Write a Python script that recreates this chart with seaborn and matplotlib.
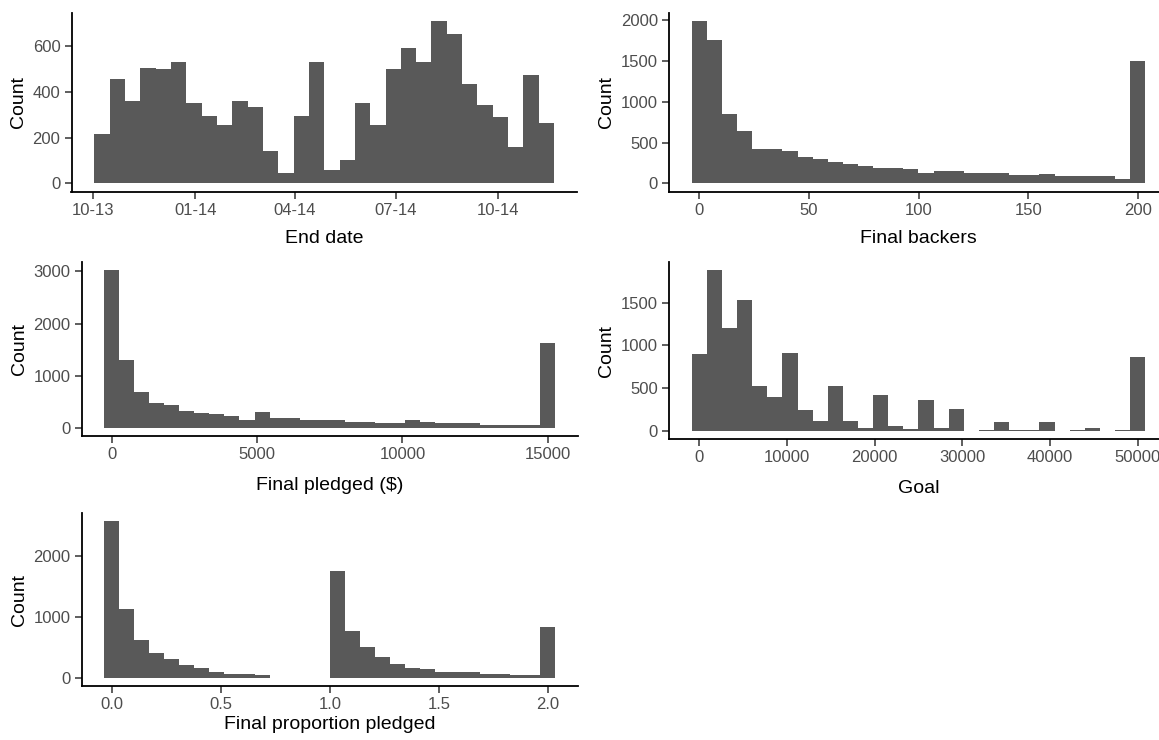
import numpy as np
import pandas as pd
import matplotlib
matplotlib.use("Agg")
import matplotlib.pyplot as plt
import matplotlib.dates as mdates
import seaborn as sns

# ---- data: 30-bin counts for each variable ----
end_date_range = ["2013-10-09", "2014-11-14"]
end_date_counts = [214, 457, 360, 504, 497, 530, 351, 295, 254, 360,
                   335, 142, 45, 295, 530, 59, 101, 351, 254, 497,
                   592, 530, 708, 653, 432, 344, 288, 159, 471, 263]
end_date_ticks = ["2013-10-01", "2014-01-01", "2014-04-01", "2014-07-01", "2014-10-01"]

backers_range = [0, 200]
backers_counts = [1992, 1764, 850, 646, 419, 419, 394, 329, 305, 260,
                  240, 215, 195, 195, 171, 126, 150, 150, 126, 126,
                  126, 101, 101, 118, 85, 85, 85, 85, 50, 1508]
backers_ticks = [0, 50, 100, 150, 200]

pledged_range = [0, 15000]
pledged_counts = [3025, 1302, 696, 485, 447, 325, 294, 268, 230, 153,
                  306, 198, 198, 153, 153, 153, 121, 121, 89, 89,
                  160, 121, 89, 89, 89, 51, 51, 51, 51, 1621]
pledged_ticks = [0, 5000, 10000, 15000]

goal_range = [0, 50000]
goal_counts = [898, 1881, 1201, 1527, 529, 393, 917, 245, 116, 529,
               120, 40, 425, 60, 18, 365, 38, 255, 0, 15,
               105, 15, 15, 105, 0, 15, 40, 0, 15, 859]
goal_ticks = [0, 10000, 20000, 30000, 40000, 50000]

proportion_range = [0, 2]
proportion_counts = [2585, 1142, 628, 415, 322, 208, 169, 98, 71, 71,
                     44, 0, 0, 0, 0, 1765, 781, 514, 355, 230,
                     169, 142, 104, 104, 104, 71, 71, 44, 44, 842]
proportion_ticks = [0.0, 0.5, 1.0, 1.5, 2.0]

# ---- style ----
sns.set_style("ticks")
plt.rcParams["font.family"] = ["Liberation Sans", "DejaVu Sans"]

BAR = "#595959"
TICK_TXT = "#4D4D4D"
W, H = 1159, 740


def gg_bins(lo, hi, n=30):
    """Bins centred on the range ends, as ggplot's bins= does."""
    w = (hi - lo) / (n - 1)
    centers = lo + w * np.arange(n)
    edges = lo - w / 2 + w * np.arange(n + 1)
    return centers, edges


def make_ax(fig, left, right, top, bottom):
    return fig.add_axes([left / W, 1 - bottom / H, (right - left) / W, (bottom - top) / H])


def panel(ax, lo, hi, counts, xlabel, xticks, yticks, xfmt=None, xpad=9):
    centers, edges = gg_bins(lo, hi, len(counts))
    df = pd.DataFrame({"value": centers, "n": np.asarray(counts, dtype=float)})
    sns.histplot(data=df, x="value", weights="n", bins=[float(e) for e in edges], ax=ax,
                 color=BAR, alpha=1, edgecolor="none", linewidth=0)
    span = edges[-1] - edges[0]
    ax.set_xlim(edges[0] - 0.05 * span, edges[-1] + 0.05 * span)
    ymax = max(counts)
    ax.set_ylim(-0.05 * ymax, 1.05 * ymax)
    ax.set_xticks(xticks)
    ax.set_yticks(yticks)
    if xfmt is not None:
        ax.xaxis.set_major_formatter(xfmt)
    ax.set_xlabel(xlabel, fontsize=14, color="black", labelpad=xpad)
    ax.set_ylabel("Count", fontsize=14, color="black", labelpad=4)
    ax.tick_params(axis="both", labelsize=12, labelcolor=TICK_TXT, color="#333333",
                   length=5, width=1.1, pad=3)
    for s in ("top", "right"):
        ax.spines[s].set_visible(False)
    for s in ("left", "bottom"):
        ax.spines[s].set_linewidth(1.3)
        ax.spines[s].set_color("black")
    ax.set_facecolor("white")


fig = plt.figure(figsize=(W / 100, H / 100), dpi=100)
fig.patch.set_facecolor("white")

# End date (dates as matplotlib day numbers)
ax1 = make_ax(fig, 71.5, 577, 13, 191.5)
d_lo, d_hi = mdates.date2num(pd.to_datetime(end_date_range))
panel(ax1, d_lo, d_hi, end_date_counts, "End date",
      mdates.date2num(pd.to_datetime(end_date_ticks)), [0, 200, 400, 600],
      xfmt=mdates.DateFormatter("%m-%y"))

ax2 = make_ax(fig, 669, 1168, 13, 191.5)
panel(ax2, *backers_range, backers_counts, "Final backers",
      backers_ticks, [0, 500, 1000, 1500, 2000])

ax3 = make_ax(fig, 81.5, 578, 262, 436)
panel(ax3, *pledged_range, pledged_counts, "Final pledged ($)",
      pledged_ticks, [0, 1000, 2000, 3000], xpad=11)

ax4 = make_ax(fig, 669, 1168, 262, 439)
panel(ax4, *goal_range, goal_counts, "Goal",
      goal_ticks, [0, 500, 1000, 1500], xpad=11)

ax5 = make_ax(fig, 81.5, 578, 513, 686)
panel(ax5, *proportion_range, proportion_counts, "Final proportion pledged",
      proportion_ticks, [0, 1000, 2000],
      xfmt=matplotlib.ticker.FormatStrFormatter("%.1f"), xpad=3)

fig.savefig("out.png", dpi=100, facecolor="white")
